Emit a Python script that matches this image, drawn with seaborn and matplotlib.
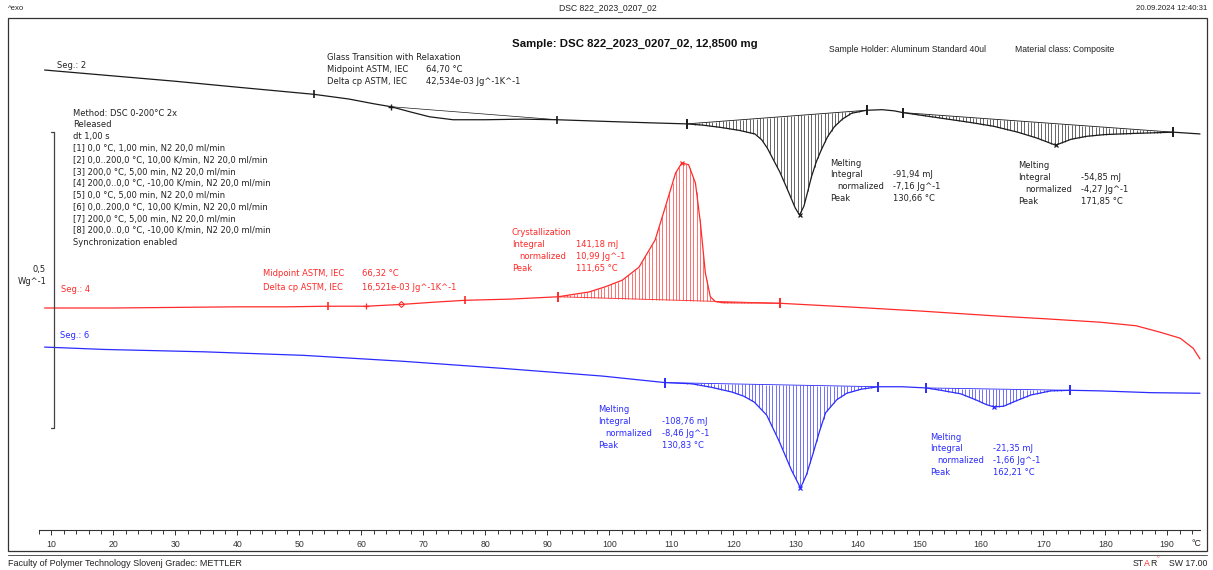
import numpy as np
import pandas as pd
import matplotlib
matplotlib.use("Agg")
import matplotlib.pyplot as plt
import seaborn as sns
from matplotlib.patches import Rectangle
from matplotlib.lines import Line2D

# ---------------- data (temperature in °C, heat flow in W/g, display offset included) -------------
seg2_T = [8.9, 20, 30, 40, 52.3, 58, 62, 64.8, 68, 71, 74.8, 80, 86, 91.6, 100, 106, 112.5, 115, 118,
          121, 123.5, 124.6, 125.5, 126.5, 127.5, 128.3, 129.2, 130.0, 130.7, 131.4, 132.0, 132.6, 133.4,
          134.2, 135.2, 136.3, 137.6, 139.1, 141.5, 144, 146, 147.4, 152, 157.9, 162, 165.9, 169, 172,
          174.5, 177, 180, 185, 191, 195.3]
seg2_hf = [0.777, 0.767, 0.758, 0.748, 0.736, 0.728, 0.720, 0.715, 0.706, 0.698, 0.693, 0.693, 0.694, 0.693,
           0.690, 0.688, 0.686, 0.684, 0.680, 0.675, 0.669, 0.659, 0.645, 0.625, 0.605, 0.586, 0.564, 0.544,
           0.532, 0.547, 0.571, 0.596, 0.622, 0.642, 0.664, 0.681, 0.694, 0.704, 0.709, 0.710, 0.708, 0.705,
           0.698, 0.689, 0.682, 0.672, 0.662, 0.650, 0.660, 0.665, 0.668, 0.670, 0.672, 0.669]

seg4_T = [8.9, 20, 30, 40, 48, 54.7, 60.8, 66.4, 72, 76.7, 84, 91.8, 94.2, 96.7, 99.4, 102.1, 104.8, 107.4,
          109.05, 110.7, 111.7, 112.8, 113.9, 114.7, 115.5, 116.3, 117.1, 118.2, 127.5, 140, 150, 163.2,
          170, 179.2, 185, 188.9, 192.1, 194.2, 195.3]
seg4_hf = [0.375, 0.375, 0.376, 0.377, 0.377, 0.378, 0.378, 0.381, 0.385, 0.388, 0.390, 0.394, 0.398, 0.402,
           0.411, 0.422, 0.444, 0.490, 0.546, 0.603, 0.620, 0.617, 0.586, 0.519, 0.434, 0.394, 0.386, 0.384,
           0.383, 0.376, 0.370, 0.361, 0.357, 0.351, 0.345, 0.334, 0.324, 0.307, 0.289]

seg6_T = [8.9, 18.5, 34.6, 50.7, 66.7, 82.8, 98.9, 109, 113.3, 116.5, 119.8, 121.7, 123.4, 125.4, 127.45,
          129.4, 130.85, 131.8, 132.9, 133.9, 134.9, 136.7, 138.3, 140.7, 143.4, 147.2, 151.1, 153.5, 156.7,
          159.1, 160.8, 162.0, 163.6, 165.6, 168.0, 171.2, 174.4, 179.2, 187.3, 195.3]
seg6_hf = [0.309, 0.305, 0.301, 0.295, 0.285, 0.273, 0.260, 0.249, 0.247, 0.241, 0.233, 0.226, 0.216, 0.194,
           0.149, 0.101, 0.071, 0.093, 0.130, 0.166, 0.198, 0.220, 0.231, 0.238, 0.242, 0.242, 0.240, 0.236,
           0.230, 0.220, 0.212, 0.208, 0.209, 0.218, 0.228, 0.235, 0.236, 0.235, 0.232, 0.231]

# evaluation limits / peaks (°C)
seg2_gt_limits = [52.3, 91.6]
seg2_gt_mid = 64.8
seg2_melt_limits = [(112.5, 141.5), (147.4, 191.0)]
seg2_melt_peaks = [130.7, 172.0]
seg4_gt_limits = [54.7, 76.7]
seg4_gt_marks = [60.8, 66.4]
seg4_cryst_limits = [(91.8, 127.5)]
seg4_cryst_peaks = [111.7]
seg6_melt_limits = [(109.0, 143.4), (151.1, 174.4)]
seg6_melt_peaks = [130.85, 162.0]

x_ticks_major = list(range(10, 191, 10))
x_ticks_minor = list(range(8, 196, 2))
scale_bar_wg = 0.5
scale_bar_bottom = 0.172

method_lines = ["Method: DSC 0-200°C 2x", "Released", "dt 1,00 s",
                "[1] 0,0 °C, 1,00 min, N2 20,0 ml/min",
                "[2] 0,0..200,0 °C, 10,00 K/min, N2 20,0 ml/min",
                "[3] 200,0 °C, 5,00 min, N2 20,0 ml/min",
                "[4] 200,0..0,0 °C, -10,00 K/min, N2 20,0 ml/min",
                "[5] 0,0 °C, 5,00 min, N2 20,0 ml/min",
                "[6] 0,0..200,0 °C, 10,00 K/min, N2 20,0 ml/min",
                "[7] 200,0 °C, 5,00 min, N2 20,0 ml/min",
                "[8] 200,0..0,0 °C, -10,00 K/min, N2 20,0 ml/min",
                "Synchronization enabled"]

BLACK = "#1a1a1a"
RED = "#ff2a2a"
BLUE = "#2b2bff"

# ---------------- figure ----------------
sns.set_theme(style="white")
plt.rcParams['font.family'] = ['Liberation Sans', 'DejaVu Sans']

W, H = 1213, 570
fig = plt.figure(figsize=(W / 100, H / 100), dpi=100)
fig.patch.set_facecolor("white")


def fx(x):
    return x / W


def fy(y):
    return 1 - y / H


ax = fig.add_axes([fx(39), fy(530), fx(1200) - fx(39), fy(18) - fy(530)])
ax.set_facecolor("none")


def draw_curve(T, hf, color, lw=0.9):
    df = pd.DataFrame({"T": T, "hf": hf})
    sns.lineplot(data=df, x="T", y="hf", ax=ax, color=color, lw=lw, estimator=None,
                 sort=False, clip_on=False, legend=False)


def hatch(T, hf, t0, t1, color, step=0.55):
    y0, y1 = np.interp(t0, T, hf), np.interp(t1, T, hf)
    ts = np.arange(t0 + step / 2, t1, step)
    base = np.interp(ts, [t0, t1], [y0, y1])
    cur = np.interp(ts, T, hf)
    ax.vlines(ts, base, cur, colors=color, lw=0.55, alpha=0.85)
    ax.plot([t0, t1], [y0, y1], color=color, lw=0.6)
    ax.plot([t0, t1], [y0, y1], ls="none", marker="|", ms=7, mew=1.4, color=color)


def mark(T, hf, t, color, marker, ms=4, mew=0.9):
    ax.plot([t], [np.interp(t, T, hf)], ls="none", marker=marker, ms=ms, mew=mew, color=color,
            mfc="none", clip_on=False)


# curves
draw_curve(seg2_T, seg2_hf, BLACK)
draw_curve(seg4_T, seg4_hf, RED)
draw_curve(seg6_T, seg6_hf, BLUE)

# black evaluations
for t in seg2_gt_limits:
    mark(seg2_T, seg2_hf, t, BLACK, "|", ms=6, mew=1.2)
mark(seg2_T, seg2_hf, seg2_gt_mid, BLACK, "+", ms=5, mew=1.0)
ax.plot([seg2_gt_mid, seg2_gt_limits[1]],
        [np.interp(seg2_gt_mid, seg2_T, seg2_hf), np.interp(seg2_gt_limits[1], seg2_T, seg2_hf)],
        color=BLACK, lw=0.5)
for (a, b), p in zip(seg2_melt_limits, seg2_melt_peaks):
    hatch(seg2_T, seg2_hf, a, b, BLACK)
    mark(seg2_T, seg2_hf, p, BLACK, "x", ms=3.5)

# red evaluations
for t in seg4_gt_limits:
    mark(seg4_T, seg4_hf, t, RED, "|", ms=6, mew=1.2)
mark(seg4_T, seg4_hf, seg4_gt_marks[0], RED, "+", ms=4, mew=0.9)
mark(seg4_T, seg4_hf, seg4_gt_marks[1], RED, "D", ms=3, mew=0.8)
for (a, b), p in zip(seg4_cryst_limits, seg4_cryst_peaks):
    hatch(seg4_T, seg4_hf, a, b, RED)
    mark(seg4_T, seg4_hf, p, RED, "x", ms=3.5)

# blue evaluations
for (a, b), p in zip(seg6_melt_limits, seg6_melt_peaks):
    hatch(seg6_T, seg6_hf, a, b, BLUE)
    mark(seg6_T, seg6_hf, p, BLUE, "x", ms=3.5)

# scale bar (0,5 W/g)
sb_x, sb_tick = 10.5, 10.0
ax.plot([sb_x, sb_x], [scale_bar_bottom, scale_bar_bottom + scale_bar_wg], color="#444444", lw=0.9,
        clip_on=False)
ax.plot([sb_tick, sb_x], [scale_bar_bottom, scale_bar_bottom], color="#444444", lw=0.9, clip_on=False)
ax.plot([sb_tick, sb_x], [scale_bar_bottom + scale_bar_wg] * 2, color="#444444", lw=0.9, clip_on=False)

# axis styling (after seaborn calls, which set labels)
ax.set_xlim(8.71, 195.3)
ax.set_ylim(0.0, 512 / 592)
for s in ["top", "left", "right"]:
    ax.spines[s].set_visible(False)
ax.spines["bottom"].set_color("#333333")
ax.spines["bottom"].set_linewidth(0.8)
ax.set_xticks(x_ticks_major)
ax.set_xticks(x_ticks_minor, minor=True)
ax.set_xticklabels([str(t) for t in x_ticks_major])
ax.tick_params(axis="x", which="both", direction="out", length=3, width=0.7, colors="#333333",
               labelsize=6.3, pad=3.5, bottom=True)
ax.tick_params(axis="x", which="major", length=3.5)
ax.set_yticks([])
ax.set_xlabel("")
ax.set_ylabel("")
ax.grid(False)

# ---------------- frame & texts ----------------
fig.add_artist(Rectangle((fx(8), fy(551)), fx(1207) - fx(8), fy(18) - fy(551), transform=fig.transFigure,
                         fill=False, ec="#333333", lw=0.9))
fig.add_artist(Line2D([fx(8), fx(1207)], [fy(554.5), fy(554.5)], transform=fig.transFigure,
                      color="#555555", lw=0.7))

FS = 6.0
BODY = ['DejaVu Sans']
HEAD = ['Liberation Sans', 'DejaVu Sans']


def t(x, y, s, color="#222222", ha="left", size=FS, family=None, **kw):
    return fig.text(fx(x), fy(y), s, ha=ha, va="center", color=color, fontsize=size,
                    family=family if family else BODY, **kw)


t(8, 8, "^exo", size=5.6, family=HEAD)
t(608, 8, "DSC 822_2023_0207_02", ha="center", size=6.2, family=HEAD)
t(1207, 8, "20.09.2024 12:40:31", ha="right", size=5.6, family=HEAD)
t(512, 44, "Sample: DSC 822_2023_0207_02, 12,8500 mg", size=8.2, fontweight="bold", color="#111111",
  family=HEAD)
t(829, 50, "Sample Holder: Aluminum Standard 40ul", size=6.2, family=HEAD)
t(1015, 50, "Material class: Composite", size=6.2, family=HEAD)

for i, line in enumerate(method_lines):
    t(73, 113 + 11.8 * i, line)

# black annotations
t(57, 66, "Seg.: 2")
t(327, 58, "Glass Transition with Relaxation")
t(327, 69.5, "Midpoint ASTM, IEC")
t(426, 69.5, "64,70 °C")
t(327, 81, "Delta cp ASTM, IEC")
t(426, 81, "42,534e-03 Jg^-1K^-1")


def block(x, xv, y, title, integ, norm, peak, color):
    t(x, y, title, color=color)
    t(x, y + 11.7, "Integral", color=color)
    t(xv, y + 11.7, integ, color=color)
    t(x + 7, y + 23.4, "normalized", color=color)
    t(xv, y + 23.4, norm, color=color)
    t(x, y + 35.1, "Peak", color=color)
    t(xv, y + 35.1, peak, color=color)


block(830, 893, 163, "Melting", "-91,94 mJ", "-7,16 Jg^-1", "130,66 °C", "#222222")
block(1018, 1081, 166, "Melting", "-54,85 mJ", "-4,27 Jg^-1", "171,85 °C", "#222222")

# red annotations
t(61, 289, "Seg.: 4", color=RED)
t(263, 274, "Midpoint ASTM, IEC", color=RED)
t(362, 274, "66,32 °C", color=RED)
t(263, 287, "Delta cp ASTM, IEC", color=RED)
t(362, 287, "16,521e-03 Jg^-1K^-1", color=RED)
block(512, 576, 233, "Crystallization", "141,18 mJ", "10,99 Jg^-1", "111,65 °C", RED)

# blue annotations
t(60, 336, "Seg.: 6", color=BLUE)
block(598, 662, 410, "Melting", "-108,76 mJ", "-8,46 Jg^-1", "130,83 °C", BLUE)
block(930, 993, 437, "Melting", "-21,35 mJ", "-1,66 Jg^-1", "162,21 °C", BLUE)

# scale label
t(46, 270, "0,5", ha="right")
t(47, 282, "Wg^-1", ha="right")

# unit
t(1191, 543, "°C", size=6.3, family=HEAD)

# footer
t(8, 563, "Faculty of Polymer Technology Slovenj Gradec: METTLER", size=6.5, family=HEAD)
prev = fig.text(fx(1133), fy(563), "ST", ha="left", va="center", fontsize=6.3, family=HEAD, color="#222222")
for piece, col in [("A", RED), ("R", "#222222")]:
    prev = ax.annotate(piece, xy=(1, 0.5), xycoords=prev, ha="left", va="center", fontsize=6.3,
                       family=HEAD, color=col, annotation_clip=False)
prev = ax.annotate("\u00b0", xy=(1, 0.9), xycoords=prev, ha="left", va="center", fontsize=5,
                   family=HEAD, color=RED, annotation_clip=False)
t(1207, 563, "SW 17.00", ha="right", size=6.3, family=HEAD)

fig.savefig("out.png", dpi=100, facecolor="white")
